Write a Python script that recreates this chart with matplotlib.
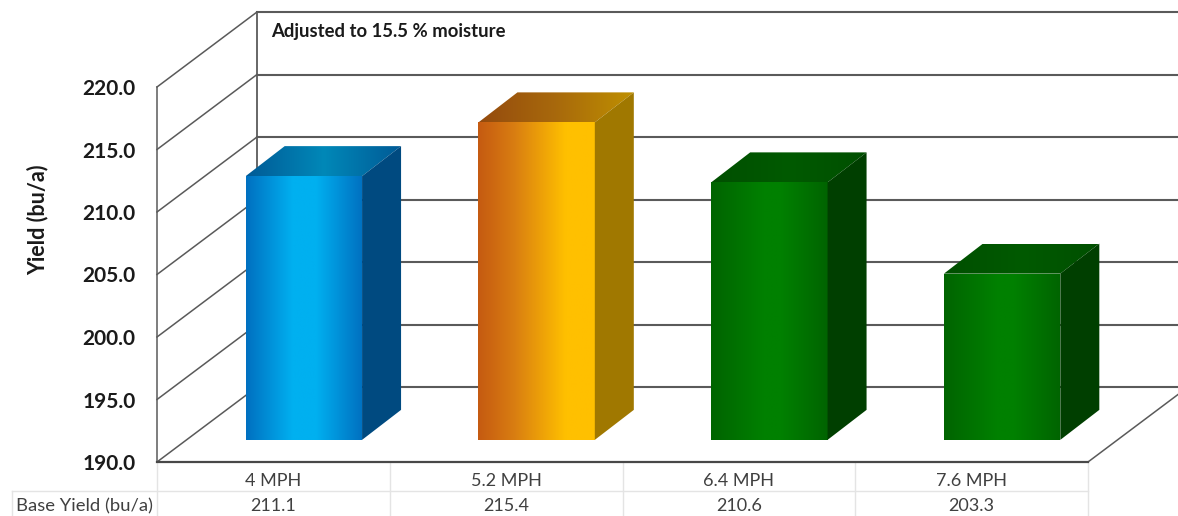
import numpy as np
import matplotlib
matplotlib.use("Agg")
import matplotlib.pyplot as plt
from matplotlib.colors import LinearSegmentedColormap
from matplotlib.patches import Polygon

categories = ["4 MPH", "5.2 MPH", "6.4 MPH", "7.6 MPH"]
base_yield = [211.1, 215.4, 210.6, 203.3]
y_ticks = [190, 195, 200, 205, 210, 215, 220]
annotation = "Adjusted to 15.5 % moisture"

front_colors = [["#0070C0", "#00B0F0", "#00B0F0", "#0070C0"],
                ["#C55A11", "#D87C12", "#FFC000", "#FFC000"],
                ["#006400", "#008000", "#008000", "#006400"],
                ["#006400", "#008000", "#008000", "#006400"]]
front_stops = [[0, .4, .6, 1], [0, .3, .75, 1], [0, .45, .6, 1], [0, .45, .6, 1]]
top_colors = [["#005A96", "#0088B8", "#005A96"],
              ["#944A0E", "#A8690C", "#BF9000"],
              ["#004F00", "#005A00", "#004F00"],
              ["#004F00", "#005A00", "#004F00"]]
side_colors = ["#004A80", "#A07800", "#003F00", "#003F00"]

W, H = 1178, 516
L, R, T, B = 157, 1088, 87, 462
DX = 100 / ((R - L) / 4)      # wall depth, category units
DY = 6.0                      # wall depth, yield units
BAR_W = 0.5
D0X, D0Y, D1X, D1Y = 0.305, 0.295, 0.39, 0.4   # bar offset and depth as fractions of the wall depth

plt.rcParams["font.family"] = ["Lato", "DejaVu Sans"]
fig = plt.figure(figsize=(W / 100, H / 100), dpi=100)
ax = fig.add_axes([L / W, 1 - B / H, (R - L) / W, (B - T) / H])
ax.patch.set_visible(False)
for s in ax.spines.values():
    s.set_visible(False)

GRID = "#5A5A5A"
n = len(categories)
for t in y_ticks:
    ax.plot([0, DX], [t, t + DY], color=GRID, lw=1.1, clip_on=False, zorder=1)
    ax.plot([DX, n + DX], [t + DY, t + DY], color=GRID, lw=1.5, clip_on=False, zorder=1)
ax.plot([0, 0], [y_ticks[0], y_ticks[-1]], color=GRID, lw=1.1, clip_on=False, zorder=1)
ax.plot([DX, DX], [y_ticks[0] + DY, y_ticks[-1] + DY], color=GRID, lw=1.3, clip_on=False, zorder=1)
ax.plot([0, n], [190, 190], color="#484848", lw=1.6, clip_on=False, zorder=2)
ax.plot([n, n + DX], [190, 190 + DY], color=GRID, lw=1.1, clip_on=False, zorder=1)


def face(poly, extent, cmap):
    patch = Polygon(poly, closed=True, fc="none", ec="none", transform=ax.transData, clip_on=False)
    ax.add_patch(patch)
    grad = np.linspace(0, 1, 256)[None, :]
    im = ax.imshow(grad, extent=extent, cmap=cmap, aspect="auto", zorder=3,
                   interpolation="bilinear")
    im.set_clip_box(fig.bbox)
    im.set_clip_path(patch)


for i, v in enumerate(base_yield):
    x0 = i + 0.5 - BAR_W / 2 + D0X * DX
    x1 = x0 + BAR_W
    y0 = 190 + D0Y * DY
    y1 = v + D0Y * DY
    ox, oy = D1X * DX, D1Y * DY
    cm = LinearSegmentedColormap.from_list(f"f{i}", list(zip(front_stops[i], front_colors[i])))
    face([(x0, y0), (x1, y0), (x1, y1), (x0, y1)], (x0, x1, y0, y1), cm)
    cmt = LinearSegmentedColormap.from_list(f"t{i}", top_colors[i])
    face([(x0, y1), (x1, y1), (x1 + ox, y1 + oy), (x0 + ox, y1 + oy)],
         (x0, x1 + ox, y1, y1 + oy), cmt)
    ax.add_patch(Polygon([(x1, y0), (x1 + ox, y0 + oy), (x1 + ox, y1 + oy), (x1, y1)],
                         closed=True, fc=side_colors[i], ec="none", zorder=3, clip_on=False))

ax.set_xlim(0, n)
ax.set_ylim(190, 220)
ax.set_yticks(y_ticks, [f"{t:.1f}" for t in y_ticks], fontsize=15, fontweight="bold", color="#1A1A1A")
ax.tick_params(axis="y", length=0, pad=15.5)
ax.set_ylabel("Yield (bu/a)", fontsize=15.5, fontweight="bold", color="#1A1A1A")
ax.yaxis.set_label_coords((49 - L) / (R - L), (B - 220) / (B - T))
ax.set_xticks(np.arange(n) + 0.5, categories, fontsize=13, color="#404040")
ax.tick_params(axis="x", length=0, pad=8)

# data table under the floor
tr = ax.get_xaxis_transform()
TABLE = "#E4E4E4"
y_rule = -29 / (B - T)
y_end = -54 / (B - T)
for k in range(n + 1):
    ax.plot([k, k], [0, y_end], transform=tr, color=TABLE, lw=1, clip_on=False, zorder=1)
x_left = (12 - L) / ((R - L) / n)
ax.plot([x_left, n], [y_rule, y_rule], transform=tr, color=TABLE, lw=1, clip_on=False, zorder=1)
ax.plot([x_left, x_left], [y_rule, y_end], transform=tr, color=TABLE, lw=1, clip_on=False, zorder=1)
ax.text(x_left / 2, -44 / (B - T), "Base Yield (bu/a)", transform=tr, ha="center", va="center",
        fontsize=13.3, color="#404040", clip_on=False)
for i, v in enumerate(base_yield):
    ax.text(i + 0.5, -44 / (B - T), f"{v:.1f}", transform=tr, ha="center", va="center",
            fontsize=13, color="#404040", clip_on=False)

fig.text(271 / W, 1 - 31 / H, annotation, fontsize=13.3, fontweight="bold", color="#1A1A1A",
         ha="left", va="center")
fig.savefig("out.png", dpi=100)
